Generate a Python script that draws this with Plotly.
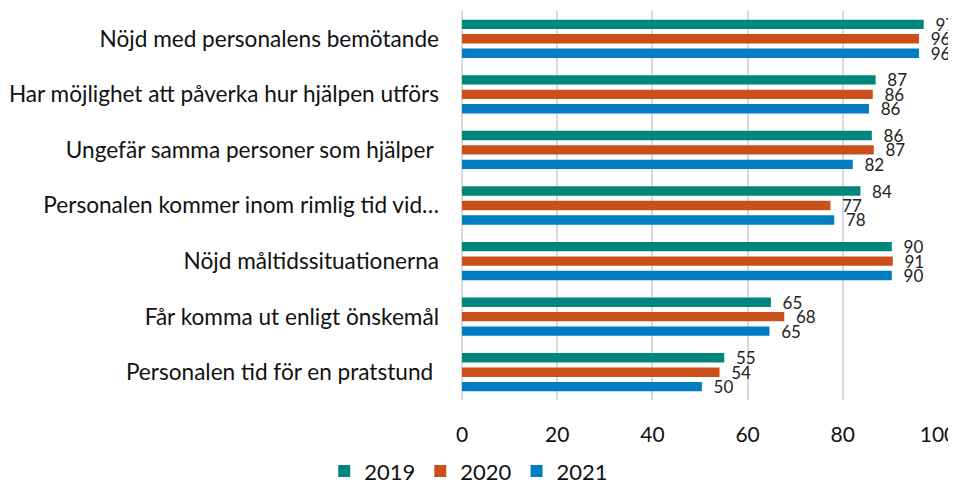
import plotly.graph_objects as go

categories = [
    "Nöjd med personalens bemötande",
    "Har möjlighet att påverka hur hjälpen utförs",
    "Ungefär samma personer som hjälper\u00a0",
    "Personalen kommer inom rimlig tid vid…",
    "Nöjd måltidssituationerna",
    "Får komma ut enligt önskemål",
    "Personalen tid för en pratstund\u00a0",
]
years = ["2019", "2020", "2021"]
values_2019 = [97.0, 86.9, 86.1, 83.7, 90.3, 64.9, 55.1]
values_2020 = [96.0, 86.3, 86.5, 77.4, 90.5, 67.7, 54.1]
values_2021 = [96.0, 85.5, 82.1, 78.2, 90.3, 64.6, 50.4]
labels_2019 = [97, 87, 86, 84, 90, 65, 55]
labels_2020 = [96, 86, 87, 77, 91, 68, 54]
labels_2021 = [96, 86, 82, 78, 90, 65, 50]
x_ticks = [0, 20, 40, 60, 80, 100]

colors = ["#00877B", "#CB4F1B", "#007DC3"]
font_family = "Lato, 'Open Sans', sans-serif"

fig = go.Figure()
for name, vals, labs, col in zip(
    years,
    [values_2019, values_2020, values_2021],
    [labels_2019, labels_2020, labels_2021],
    colors,
):
    fig.add_trace(go.Bar(
        name=name,
        y=categories,
        x=vals,
        orientation="h",
        marker=dict(color=col, line=dict(width=0)),
        text=["\u00a0\u00a0" + str(v) for v in labs],
        textposition="outside",
        constraintext="none",
        cliponaxis=False,
        textfont=dict(family=font_family, size=17, color="#222222"),
        hoverinfo="x+y+name",
    ))

# the page body has an 8px default margin, so the figure is 8px smaller
fig.update_layout(
    width=948,
    height=476,
    barmode="group",
    bargap=0.22,
    bargroupgap=0.35,
    paper_bgcolor="white",
    plot_bgcolor="white",
    margin=dict(l=454, r=18, t=3, b=84, autoexpand=False),
    font=dict(family=font_family, size=18, color="#111111"),
    showlegend=True,
    legend=dict(
        orientation="h",
        xref="container",
        yref="container",
        x=0.486,
        xanchor="center",
        y=0.027,
        yanchor="middle",
        font=dict(family=font_family, size=22, color="#111111"),
        traceorder="normal",
    ),
    xaxis=dict(
        range=[0, 100],
        tickvals=x_ticks,
        ticktext=[str(t) for t in x_ticks],
        showgrid=True,
        gridcolor="#D9D9D9",
        gridwidth=1.5,
        zeroline=True,
        zerolinecolor="#D9D9D9",
        zerolinewidth=1.5,
        showline=False,
        ticks="",
        automargin=False,
        tickfont=dict(family=font_family, size=21, color="#111111"),
        ticklabelstandoff=20,
        ticklabeloverflow="allow",
    ),
    yaxis=dict(
        autorange="reversed",
        showgrid=False,
        showline=False,
        ticks="",
        automargin=False,
        tickfont=dict(family=font_family, size=22.6, color="#111111"),
        ticklabelstandoff=22,
    ),
)

fig.write_html("out.html")
